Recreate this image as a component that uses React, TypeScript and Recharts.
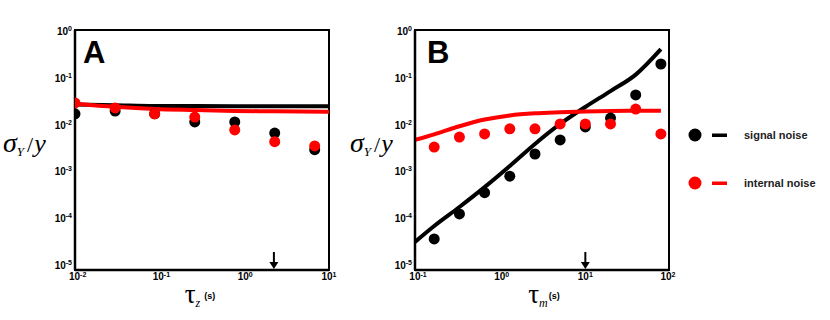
import { ComposedChart, Line, ReferenceArea, ReferenceDot, Scatter, XAxis, YAxis } from "recharts";

// panel A: tau_z sweep
const A_X_DOTS = [0.0093, 0.028, 0.083, 0.25, 0.75, 2.25, 6.75];
const A_SIGNAL_DOTS = [0.017, 0.0195, 0.017, 0.0114, 0.0114, 0.0066, 0.0029];
const A_INTERNAL_DOTS = [0.029, 0.0227, 0.017, 0.0145, 0.0077, 0.0043, 0.0035];
const A_X_LINE = [0.0093, 0.028, 0.083, 0.25, 0.75, 2.25, 10];
const A_SIGNAL_LINE = [0.027, 0.026, 0.025, 0.0248, 0.0247, 0.0246, 0.0246];
const A_INTERNAL_LINE = [0.028, 0.024, 0.0216, 0.0205, 0.0196, 0.0192, 0.0187];

// panel B: tau_m sweep
const B_X_DOTS = [0.156, 0.3125, 0.625, 1.25, 2.5, 5, 10, 20, 40, 80];
const B_SIGNAL_DOTS = [3.6e-5, 1.23e-4, 3.5e-4, 7.9e-4, 2.35e-3, 4.7e-3, 8.9e-3, 0.0138, 0.043, 0.197];
const B_INTERNAL_DOTS = [0.0033, 0.0054, 0.0063, 0.0081, 0.0081, 0.0103, 0.0103, 0.0103, 0.0215, 0.0063];
const B_X_LINE = [0.092, 0.156, 0.3125, 0.625, 1.25, 2.5, 5, 10, 20, 40, 80];
const B_SIGNAL_LINE = [3.1e-5, 6.8e-5, 1.73e-4, 4.6e-4, 1.3e-3, 3.85e-3, 0.0103, 0.0238, 0.052, 0.117, 0.41];
const B_INTERNAL_LINE = [0.0047, 0.0062, 0.0092, 0.0128, 0.0157, 0.0174, 0.0183, 0.019, 0.0195, 0.0197, 0.0197];

const A_X_DOMAIN = [0.0093, 10];
const A_X_TICKS = [0.01, 0.1, 1, 10];
const B_X_DOMAIN = [0.092, 100];
const B_X_TICKS = [0.1, 1, 10, 100];
const Y_DOMAIN = [7.8e-6, 1.05];
const Y_TICKS = [1e-5, 1e-4, 1e-3, 1e-2, 1e-1, 1];

const RED = "#ff0000";
const tickFont = { fontFamily: "'Liberation Sans', Arial, sans-serif", fontWeight: 700, fill: "#000" };
const serif = "'Liberation Serif', 'Times New Roman', serif";

const zip = (xs: number[], ys: number[]) => xs.map((x, i) => ({ x, y: ys[i] }));

function XTick({ x, y, payload }: any) {
  const e = Math.round(Math.log10(payload.value));
  return (
    <text x={x} y={y} textAnchor="middle" style={tickFont} fontSize={10}>
      <tspan dy={7}>10</tspan>
      <tspan fontSize={7} dy={-3.5}>{e}</tspan>
    </text>
  );
}

function YTick({ x, y, payload }: any) {
  const e = Math.round(Math.log10(payload.value));
  return (
    <text x={x} y={y} textAnchor="end" style={tickFont} fontSize={10}>
      <tspan dy={4}>10</tspan>
      <tspan fontSize={7} dy={-4}>{e}</tspan>
    </text>
  );
}

const dot = (color: string) => (p: any) => <circle cx={p.cx} cy={p.cy} r={5.5} fill={color} />;

const arrow = (p: any) => (
  <g>
    <line x1={p.cx} y1={p.cy - 18} x2={p.cx} y2={p.cy - 6} stroke="#000" strokeWidth={2} />
    <path d={`M${p.cx - 4.5},${p.cy - 8} L${p.cx + 4.5},${p.cy - 8} L${p.cx},${p.cy - 1} Z`} fill="#000" />
  </g>
);

function Panel({ xDomain, xTicks, xDots, sigDots, intDots, xLine, sigLine, intLine, arrowX }: any) {
  return (
    <ComposedChart width={340} height={320} margin={{ top: 30, right: 11, bottom: 20, left: 0 }}>
      <XAxis
        dataKey="x"
        type="number"
        scale="log"
        domain={xDomain}
        ticks={xTicks}
        allowDataOverflow
        height={30}
        tickSize={0}
        tickMargin={3}
        tick={<XTick />}
        axisLine={{ stroke: "#000", strokeWidth: 2.5 }}
      />
      <YAxis
        dataKey="y"
        type="number"
        scale="log"
        domain={Y_DOMAIN}
        ticks={Y_TICKS}
        allowDataOverflow
        width={75}
        tickSize={0}
        tickMargin={3}
        tick={<YTick />}
        axisLine={{ stroke: "#000", strokeWidth: 2.5 }}
      />
      <ReferenceArea x1={xDomain[0]} x2={xDomain[1]} y1={Y_DOMAIN[0]} y2={Y_DOMAIN[1]} fill="none" stroke="#000" strokeWidth={2} />
      <Line data={zip(xLine, sigLine)} dataKey="y" type="monotone" stroke="#000" strokeWidth={4} dot={false} isAnimationActive={false} />
      <Line data={zip(xLine, intLine)} dataKey="y" type="monotone" stroke={RED} strokeWidth={4} dot={false} isAnimationActive={false} />
      <Scatter data={zip(xDots, sigDots)} dataKey="y" shape={dot("#000")} isAnimationActive={false} />
      <Scatter data={zip(xDots, intDots)} dataKey="y" shape={dot(RED)} isAnimationActive={false} />
      <ReferenceDot x={arrowX} y={Y_DOMAIN[0]} shape={arrow} />
    </ComposedChart>
  );
}

function YLabel({ x }: { x: number }) {
  return (
    <text x={x} y={152} fontFamily={serif} fill="#000">
      <tspan fontSize={28} fontStyle="italic">σ</tspan>
      <tspan fontSize={13} fontStyle="italic" dy={4}>Y</tspan>
      <tspan fontSize={22} dy={-4} dx={3}>/</tspan>
      <tspan fontSize={26} fontStyle="italic" dx={1}>y</tspan>
    </text>
  );
}

function XLabel({ x, sub, gap }: { x: number; sub: string; gap: number }) {
  return (
    <text x={x} y={303} textAnchor="middle" fill="#000">
      <tspan fontFamily={serif} fontSize={27}>τ</tspan>
      <tspan fontFamily={serif} fontStyle="italic" fontSize={12} dy={4}>{sub}</tspan>
      <tspan style={tickFont} fontSize={9} dy={-8} dx={gap}>(s)</tspan>
    </text>
  );
}

export default function App() {
  return (
    <div style={{ position: "absolute", left: 0, top: 0, width: 830, height: 320, background: "#fff" }}>
      <div style={{ position: "absolute", left: 0, top: 0 }}>
        <Panel
          xDomain={A_X_DOMAIN}
          xTicks={A_X_TICKS}
          xDots={A_X_DOTS}
          sigDots={A_SIGNAL_DOTS}
          intDots={A_INTERNAL_DOTS}
          xLine={A_X_LINE}
          sigLine={A_SIGNAL_LINE}
          intLine={A_INTERNAL_LINE}
          arrowX={2.2}
        />
      </div>
      <div style={{ position: "absolute", left: 340, top: 0 }}>
        <Panel
          xDomain={B_X_DOMAIN}
          xTicks={B_X_TICKS}
          xDots={B_X_DOTS}
          sigDots={B_SIGNAL_DOTS}
          intDots={B_INTERNAL_DOTS}
          xLine={B_X_LINE}
          sigLine={B_SIGNAL_LINE}
          intLine={B_INTERNAL_LINE}
          arrowX={10}
        />
      </div>
      <svg width={830} height={320} style={{ position: "absolute", left: 0, top: 0, pointerEvents: "none" }}>
        <text x={83} y={63} style={tickFont} fontSize={31}>A</text>
        <text x={427} y={63} style={tickFont} fontSize={31}>B</text>
        <YLabel x={3} />
        <YLabel x={350} />
        <XLabel x={200} sub="z" gap={4} />
        <XLabel x={544} sub="m" gap={1} />
        <circle cx={695} cy={135} r={6.5} fill="#000" />
        <rect x={712} y={133.5} width={15} height={3.5} fill="#000" />
        <text x={744} y={139} style={{ ...tickFont, fill: "#222" }} fontSize={11}>signal noise</text>
        <circle cx={695} cy={183} r={6.5} fill={RED} />
        <rect x={712} y={181.5} width={15} height={3.5} fill={RED} />
        <text x={744} y={187} style={{ ...tickFont, fill: "#222" }} fontSize={11}>internal noise</text>
      </svg>
    </div>
  );
}
